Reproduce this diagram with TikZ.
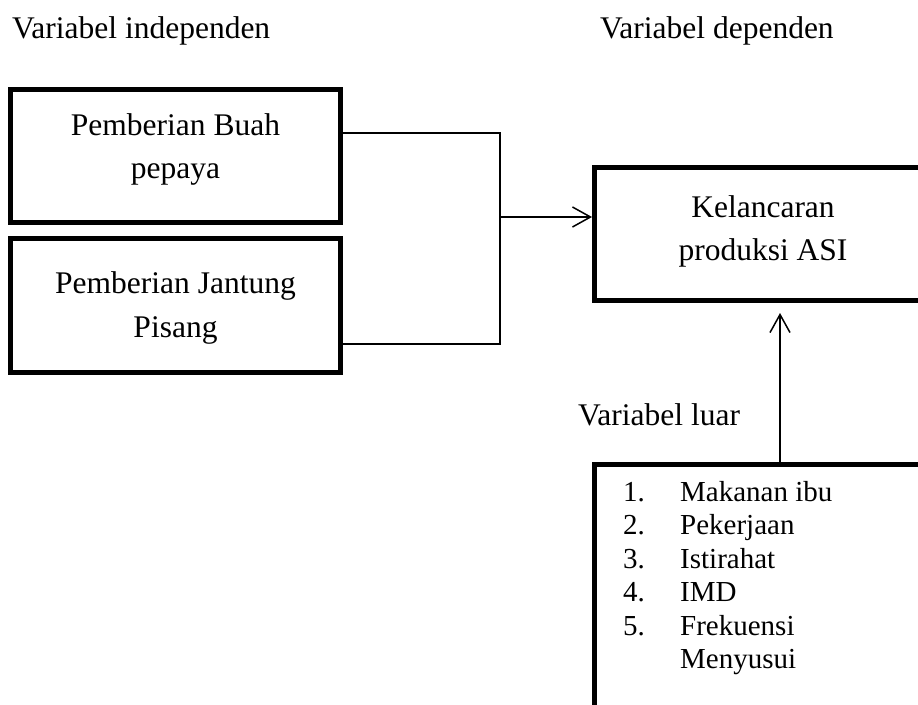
\documentclass[tikz,border=0pt]{standalone}
\usepackage{fontspec}
\setmainfont{Liberation Serif}
\usetikzlibrary{arrows.meta}
\begin{document}
\begin{tikzpicture}[x=1pt,y=-1pt,
  box/.style={draw, line width=5pt, rectangle, inner sep=0pt},
  lbl/.style={anchor=base, inner sep=0pt, font=\fontsize{31.5}{43}\selectfont},
  head/.style={anchor=base west, inner sep=0pt, font=\fontsize{31.5}{43}\selectfont},
  item/.style={anchor=base west, inner sep=0pt, font=\fontsize{29}{33.5}\selectfont},
  link/.style={line width=1.5pt},
  arr/.style={line width=1.5pt, -{Straight Barb[length=18pt, width=20pt]}}]
\useasboundingbox (0,0) rectangle (918,704);
\clip (0,0) rectangle (918,704);

% headings
\node[head] (hind) at (12,38) {Variabel independen};
\node[head] (hdep) at (600,38) {Variabel dependen};
\node[head] (hluar) at (578,425) {Variabel luar};

% independent variables
\node[box, minimum width=330pt, minimum height=133pt] (b1) at (175.5,156) {};
\node[lbl] (t1a) at (175.5,135) {Pemberian Buah};
\node[lbl] (t1b) at (175.5,178) {pepaya};

\node[box, minimum width=330pt, minimum height=134pt] (b2) at (175.5,305.5) {};
\node[lbl] (t2a) at (175.5,293) {Pemberian Jantung};
\node[lbl] (t2b) at (175.5,337) {Pisang};

% dependent variable
\node[box, minimum width=337.5pt, minimum height=133pt] (b3) at (763.25,234) {};
\node[lbl] (t3a) at (763,217) {Kelancaran};
\node[lbl] (t3b) at (763,260) {produksi ASI};

% external variables
\node[box, minimum width=366pt, minimum height=296pt] (b4) at (777,612) {};
\foreach \n/\t [count=\i] in {1./Makanan ibu, 2./Pekerjaan, 3./Istirahat, 4./IMD, 5./Frekuensi} {
  \node[item] (n\i) at (623,{501+33.5*(\i-1)}) {\n};
  \node[item] (i\i) at (680,{501+33.5*(\i-1)}) {\t};
}
\node[item] (i6) at (680,668.5) {Menyusui};

% connectors
\coordinate (jt) at (500,133);
\coordinate (jb) at (500,344);
\coordinate (j) at (500,217);
\coordinate (tip) at (780,313);
\draw[link] ([yshift=23pt]b1.east) -- (jt) -- (jb) -- ([yshift=-38.5pt]b2.east);
\draw[arr] (j) -- (j -| b3.west);
\draw[arr] (tip |- b4.north) -- (tip);
\end{tikzpicture}
\end{document}
